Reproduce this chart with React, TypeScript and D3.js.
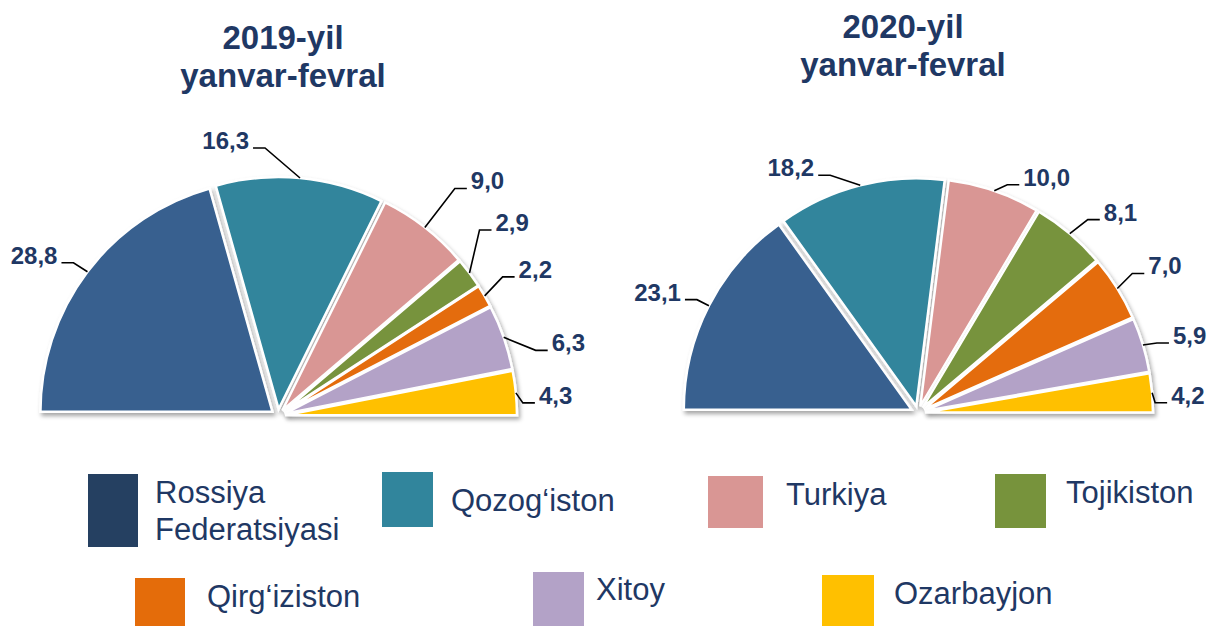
import React, { useEffect, useRef } from 'react';
import * as d3 from 'd3';

// countries in slice order (left to right over the top of each half-pie)
const COUNTRIES = [
  'Rossiya Federatsiyasi',
  'Qozog‘iston',
  'Turkiya',
  'Tojikiston',
  'Qirg‘iziston',
  'Xitoy',
  'Ozarbayjon',
];
const VALUES_2019 = [28.8, 16.3, 9.0, 2.9, 2.2, 6.3, 4.3];
const VALUES_2020 = [23.1, 18.2, 10.0, 8.1, 7.0, 5.9, 4.2];
const TITLE_2019 = ['2019-yil', 'yanvar-fevral'];
const TITLE_2020 = ['2020-yil', 'yanvar-fevral'];

const SLICE_COLORS = ['#37608F', '#31859C', '#D99694', '#77933C', '#E46C0A', '#B3A2C7', '#FFC000'];
const LEGEND_COLORS = ['#254061', '#31859C', '#D99694', '#77933C', '#E46C0A', '#B3A2C7', '#FFC000'];
const TEXT_COLOR = '#1F3864';
const FONT = 'Arial, "Liberation Sans", Helvetica, sans-serif';

// label elbow offsets from the slice's outer mid-point (Excel "best fit" look)
const NUDGE_2019 = [[-14, -9], [-35, -30], [30, -39], [10, -43], [18, -19], [32, 13], [7, 10]];
const NUDGE_2020 = [[-12, -6], [-30, -10], [13, -6], [18, -14], [15, -15], [14, -2], [3, 10]];

const CHARTS = [
  { values: VALUES_2019, title: TITLE_2019, nudge: NUDGE_2019, cx: 278, cy: 416, r: 232, tx: 283, ty: 49 },
  { values: VALUES_2020, title: TITLE_2020, nudge: NUDGE_2020, cx: 918, cy: 413, r: 228, tx: 903, ty: 38 },
];

// legend boxes: x, y, w, h, text x, first baseline
const LEGEND_LAYOUT = [
  [88, 474, 50, 73, 155, 503],
  [382, 472, 51, 55, 451, 511],
  [708, 476, 55, 52, 786, 505],
  [995, 474, 51, 54, 1066, 503],
  [135, 578, 50, 48, 207, 607],
  [533, 572, 51, 54, 596, 600],
  [822, 575, 52, 51, 894, 604],
];

const EXPLODE = 7;
const fmt = (v: number) => v.toFixed(1).replace('.', ',');

const App = () => {
  const ref = useRef<SVGSVGElement>(null);

  useEffect(() => {
    const svg = d3.select(ref.current);
    svg.selectAll('*').remove();

    const defs = svg.append('defs');
    defs
      .append('filter')
      .attr('id', 'shadow')
      .attr('x', '-20%')
      .attr('y', '-20%')
      .attr('width', '140%')
      .attr('height', '140%')
      .append('feDropShadow')
      .attr('dx', 2)
      .attr('dy', 3)
      .attr('stdDeviation', 2.2)
      .attr('flood-color', '#000')
      .attr('flood-opacity', 0.35);

    CHARTS.forEach(chart => {
      const pie = d3
        .pie<number>()
        .sort(null)
        .startAngle(-Math.PI / 2)
        .endAngle(Math.PI / 2);
      const arcs = pie(chart.values);
      const arc = d3.arc<d3.PieArcDatum<number>>().innerRadius(0).outerRadius(chart.r);

      const g = svg.append('g').attr('transform', `translate(${chart.cx},${chart.cy})`);
      const mid = (d: d3.PieArcDatum<number>) => (d.startAngle + d.endAngle) / 2;

      g.selectAll('path.slice')
        .data(arcs)
        .enter()
        .append('path')
        .attr('class', 'slice')
        .attr('d', arc)
        .attr('transform', d => `translate(${EXPLODE * Math.sin(mid(d))},${-EXPLODE * Math.cos(mid(d))})`)
        .attr('fill', (d, i) => SLICE_COLORS[i])
        .attr('stroke', '#fff')
        .attr('stroke-width', 2.5)
        .attr('stroke-linejoin', 'miter')
        .attr('filter', 'url(#shadow)');

      // data labels with leader lines
      const R = chart.r + EXPLODE;
      arcs.forEach((d, i) => {
        const a = mid(d);
        const ax = R * Math.sin(a);
        const ay = -R * Math.cos(a);
        const [nx, ny] = chart.nudge[i];
        const ex = ax + nx;
        const ey = ay + ny;
        const dir = nx < 0 ? -1 : 1;
        const hx = ex + dir * 12;
        g.append('polyline')
          .attr('points', `${ax},${ay} ${ex},${ey} ${hx},${ey}`)
          .attr('fill', 'none')
          .attr('stroke', '#000')
          .attr('stroke-width', 1.6);
        g.append('text')
          .attr('x', hx + dir * 4)
          .attr('y', ey + 1)
          .attr('text-anchor', dir < 0 ? 'end' : 'start')
          .attr('font-family', FONT)
          .attr('font-weight', 'bold')
          .attr('font-size', 24)
          .attr('fill', TEXT_COLOR)
          .text(fmt(d.data));
      });

      // title
      svg
        .append('text')
        .attr('text-anchor', 'middle')
        .attr('font-family', FONT)
        .attr('font-weight', 'bold')
        .attr('font-size', 33)
        .attr('fill', TEXT_COLOR)
        .selectAll('tspan')
        .data(chart.title)
        .enter()
        .append('tspan')
        .attr('x', chart.tx)
        .attr('y', (t, i) => chart.ty + i * 38)
        .text(t => t);
    });

    // legend
    const legend = svg
      .selectAll('g.legend')
      .data(COUNTRIES)
      .enter()
      .append('g')
      .attr('class', 'legend');

    legend
      .append('rect')
      .attr('x', (d, i) => LEGEND_LAYOUT[i][0])
      .attr('y', (d, i) => LEGEND_LAYOUT[i][1])
      .attr('width', (d, i) => LEGEND_LAYOUT[i][2])
      .attr('height', (d, i) => LEGEND_LAYOUT[i][3])
      .attr('fill', (d, i) => LEGEND_COLORS[i]);

    legend
      .append('text')
      .attr('font-family', FONT)
      .attr('font-size', 31)
      .attr('fill', TEXT_COLOR)
      .each(function (d, i) {
        const [, , , , tx, ty] = LEGEND_LAYOUT[i];
        const words = i === 0 ? d.split(' ') : [d];
        d3.select(this)
          .selectAll('tspan')
          .data(words)
          .enter()
          .append('tspan')
          .attr('x', tx)
          .attr('y', (w, j) => ty + j * 37)
          .text(w => w);
      });
  }, []);

  return (
    <svg
      ref={ref}
      width={1210}
      height={626}
      style={{ position: 'absolute', left: 0, top: 0, background: '#fff' }}
    />
  );
};

export default App;
